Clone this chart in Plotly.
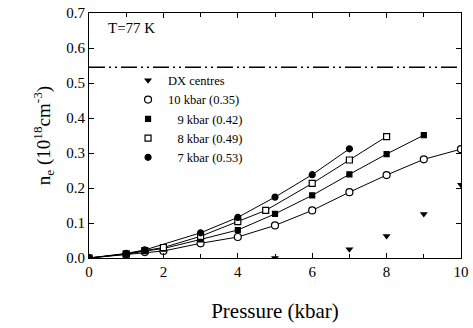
import plotly.graph_objects as go

# ---- data ----
p7 = [0, 1, 1.5, 3, 4, 5, 6, 7]
n7 = [0, 0.013, 0.023, 0.072, 0.116, 0.174, 0.238, 0.312]

p8 = [0, 1, 1.5, 2, 3, 4, 4.75, 6, 7, 8]
n8 = [0, 0.012, 0.021, 0.030, 0.062, 0.104, 0.136, 0.213, 0.280, 0.347]

p9 = [0, 1, 1.5, 2, 3, 4, 5, 6, 7, 8, 9]
n9 = [0, 0.011, 0.020, 0.027, 0.053, 0.080, 0.126, 0.179, 0.239, 0.297, 0.351]

p10 = [0, 1, 1.5, 2, 3, 4, 5, 6, 7, 8, 9, 10]
n10 = [0, 0.010, 0.017, 0.020, 0.042, 0.060, 0.093, 0.136, 0.188, 0.237, 0.282, 0.311]

p_dx = [5, 7, 8, 9, 10]
n_dx = [0.0, 0.025, 0.063, 0.126, 0.209]

dx_level_x = [0, 10]
dx_level_y = [0.545, 0.545]

names = ["DX centres", "10 kbar (0.35)", "\u2007 9 kbar (0.42)", "\u2007 8 kbar (0.49)", "\u2007 7 kbar (0.53)"]
x_ticks = [0, 2, 4, 6, 8, 10]
y_ticks = [0.0, 0.1, 0.2, 0.3, 0.4, 0.5, 0.6, 0.7]

FONT = "Liberation Serif, Times New Roman, serif"
fig = go.Figure()

# dash-dot level line
fig.add_trace(go.Scatter(x=dx_level_x, y=dx_level_y, mode="lines",
                         line=dict(color="black", width=1.3, dash="16px,4px,2px,4px,2px,4px"),
                         showlegend=False, hoverinfo="skip"))

# (x, y, symbol, size, filled, name)
series = [
    (p10, n10, "circle", 7, False, names[1]),
    (p9, n9, "square", 5, True, names[2]),
    (p8, n8, "square", 6, False, names[3]),
    (p7, n7, "circle", 6, True, names[4]),
]

# DX centres
fig.add_trace(go.Scatter(x=p_dx, y=n_dx, mode="markers", name=names[0],
                         marker=dict(symbol="triangle-down", size=7, color="black")))

for xs, ys, sym, sz, filled, nm in series:
    mk = dict(symbol=sym, size=sz, color="black" if filled else "white",
              line=dict(color="black", width=1.2))
    fig.add_trace(go.Scatter(x=xs, y=ys, mode="lines+markers", name=nm,
                             line=dict(color="black", width=1), marker=mk,
                             showlegend=False))
    fig.add_trace(go.Scatter(x=[None], y=[None], mode="markers", name=nm, marker=mk))

axis_common = dict(showline=True, linecolor="black", linewidth=1.2, mirror="ticks",
                   ticks="inside", ticklen=5, tickcolor="black", showgrid=False, zeroline=False,
                   tickfont=dict(family=FONT, size=15, color="black"))

fig.update_layout(
    width=473, height=328,
    margin=dict(l=89, r=4, t=13, b=70),
    plot_bgcolor="white", paper_bgcolor="white",
    font=dict(family=FONT, color="black"),
    xaxis=dict(range=[0, 10], tickvals=x_ticks, ticktext=[str(v) for v in x_ticks],
               ticklabeloverflow="allow",
               minor=dict(dtick=1, ticks="inside", ticklen=4, tickcolor="black"),
               title=dict(text="Pressure (kbar)", font=dict(family=FONT, size=21), standoff=24),
               **axis_common),
    yaxis=dict(range=[0, 0.7], tickvals=y_ticks, ticktext=[f"{v:.1f}" for v in y_ticks],
               title=dict(text="n<sub>e</sub> (10<sup>18</sup>cm<sup>-3</sup>)",
                          font=dict(family=FONT, size=19), standoff=10),
               **axis_common),
    legend=dict(x=0.105, y=0.785, xanchor="left", yanchor="top",
                bgcolor="rgba(0,0,0,0)", borderwidth=0,
                font=dict(family=FONT, size=12.5, color="black"),
                tracegroupgap=0, itemwidth=30),
    annotations=[dict(text="T=77 K", x=0.045, y=0.94, xref="paper", yref="paper",
                      xanchor="left", yanchor="middle", showarrow=False,
                      font=dict(family=FONT, size=15, color="black"))],
)

fig.write_html("out.html")
